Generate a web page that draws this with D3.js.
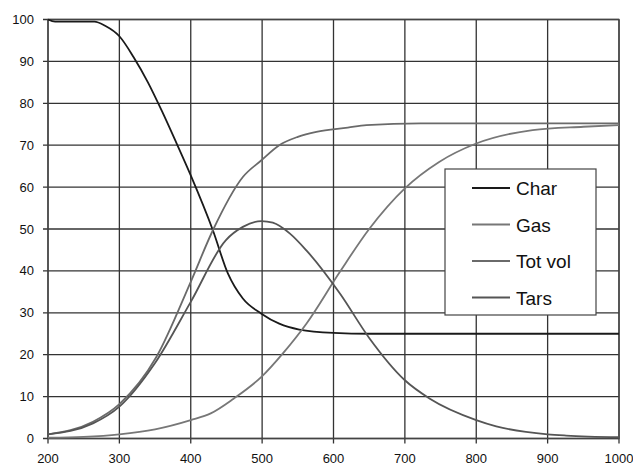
<!DOCTYPE html>
<html>
<head>
  <script src="https://d3js.org/d3.v7.min.js"></script>
  <style>
    body { margin: 0; background: #fff; }
    text { font-family: "Liberation Sans", Arial, sans-serif; }
  </style>
</head>
<body>
  <svg width="633" height="465"></svg>
<script>

// temperature points and mass fractions
const charT  = [200, 210, 265, 280, 300, 320, 340, 360, 380, 400, 431, 452, 473, 499, 524, 552, 600, 650, 700, 800, 900, 1000];
const charV  = [100, 99.5, 99.5, 98.5, 96, 91, 85, 78, 70.5, 62.8, 49.7, 39.4, 33.4, 29.8, 27.4, 26, 25.2, 25, 25, 25, 25, 25];

const totT   = [200, 263, 300, 352, 400, 431, 473, 499, 524, 550, 576, 620, 646, 722, 800, 900, 1000];
const totV   = [1, 4, 8.2, 19.5, 37.4, 49.7, 62.4, 66.4, 70, 72, 73.2, 74.2, 74.8, 75.2, 75.2, 75.2, 75.2];

const gasT   = [200, 250, 300, 350, 400, 428, 460, 499, 530, 562, 609, 650, 700, 748, 800, 879, 950, 1000];
const gasV   = [0.2, 0.4, 1, 2.2, 4.4, 6, 9.5, 14.7, 20.5, 27.4, 39.8, 50, 59.7, 66, 70.4, 73.6, 74.4, 74.8];

const tarsT  = [200, 263, 300, 350, 400, 449, 473, 499, 515, 539, 562, 609, 650, 700, 735, 800, 828, 900, 926, 1000];
const tarsV  = [1, 3.6, 7.6, 18, 32.6, 47.3, 50.5, 51.9, 51.5, 48.9, 44.9, 34.6, 24, 13.9, 9.5, 4.4, 2.9, 1, 0.7, 0.3];

const xTicks = [200, 300, 400, 500, 600, 700, 800, 900, 1000];
const yTicks = [0, 10, 20, 30, 40, 50, 60, 70, 80, 90, 100];

const series = [
  {name: 'Char',    t: charT, v: charV, color: '#1a1a1a'},
  {name: 'Gas',     t: gasT,  v: gasV,  color: '#777'},
  {name: 'Tot vol', t: totT,  v: totV,  color: '#6a6a6a'},
  {name: 'Tars',    t: tarsT, v: tarsV, color: '#555'}
];

const svg = d3.select('svg');
const pL = 48, pR = 619, pT = 19.5, pB = 438.5;

const x = d3.scaleLinear().domain([200, 1000]).range([pL, pR]);
const y = d3.scaleLinear().domain([0, 100]).range([pB, pT]);

// grid
svg.append('g').selectAll('line').data(xTicks).join('line')
  .attr('x1', d => x(d)).attr('x2', d => x(d))
  .attr('y1', pT).attr('y2', pB + 5)
  .style('stroke', '#333').style('stroke-width', 1.3);
svg.append('g').selectAll('line').data(yTicks).join('line')
  .attr('x1', pL - 5).attr('x2', pR)
  .attr('y1', d => y(d)).attr('y2', d => y(d))
  .style('stroke', '#333').style('stroke-width', 1.3);

// frame
svg.append('rect').attr('x', pL).attr('y', pT)
  .attr('width', pR - pL).attr('height', pB - pT)
  .style('fill', 'none').style('stroke', '#444').style('stroke-width', 1.3);

// tick labels
svg.append('g').selectAll('text').data(yTicks).join('text')
  .attr('x', 34).attr('y', d => y(d) + 4.5)
  .attr('text-anchor', 'end').style('font-size', '13px').style('fill', '#111')
  .text(d => d);
svg.append('g').selectAll('text').data(xTicks).join('text')
  .attr('x', d => x(d)).attr('y', 463)
  .attr('text-anchor', 'middle').style('font-size', '13px').style('fill', '#111')
  .text(d => d);

// curves
let line = d3.line().curve(d3.curveMonotoneX)
  .x(d => x(d[0])).y(d => y(d[1]));

series.forEach(s => {
  svg.append('path')
    .datum(s.t.map((t, i) => [t, s.v[i]]))
    .attr('d', line)
    .style('fill', 'none')
    .style('stroke', s.color)
    .style('stroke-width', 1.8);
});

// legend
let lg = svg.append('g');
lg.append('rect').attr('x', 445).attr('y', 169).attr('width', 151).attr('height', 146)
  .style('fill', '#fff').style('stroke', '#444').style('stroke-width', 1.2);
series.forEach((s, i) => {
  let yy = 188 + i * 36.5;
  lg.append('line').attr('x1', 472).attr('x2', 510).attr('y1', yy).attr('y2', yy)
    .style('stroke', s.color).style('stroke-width', 1.8);
  lg.append('text').attr('x', 516).attr('y', yy + 7)
    .style('font-size', '19px').style('fill', '#111').text(s.name);
});

</script>
</body>
</html>
